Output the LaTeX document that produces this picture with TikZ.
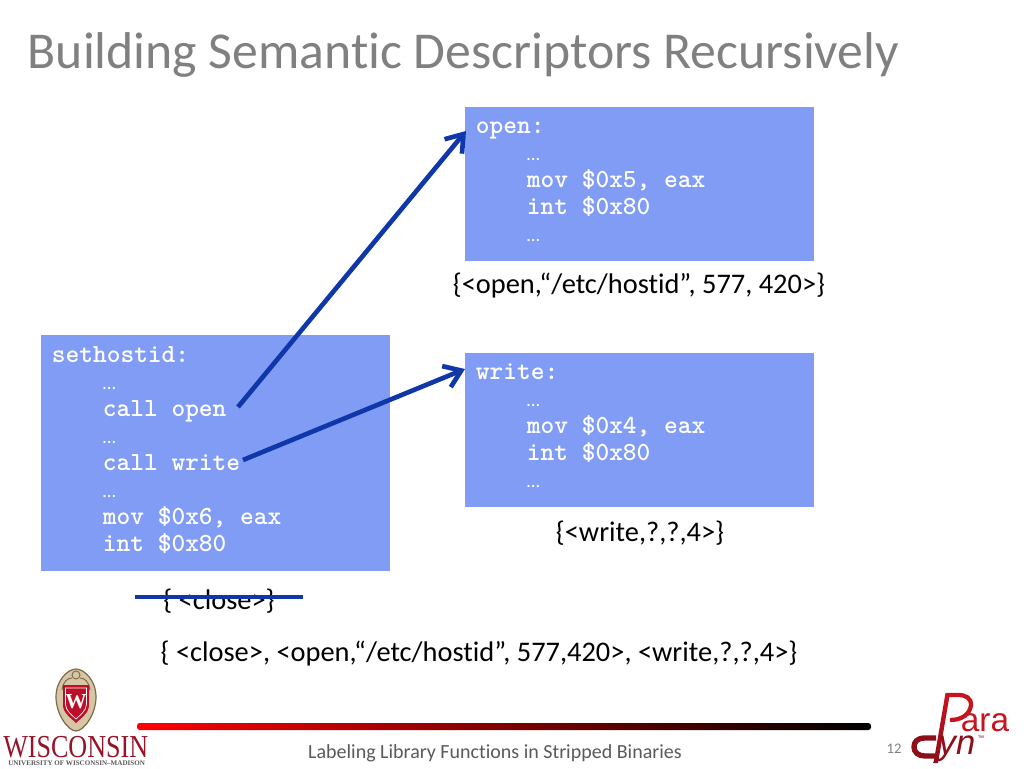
\documentclass[tikz,border=0pt]{standalone}
\usepackage{fontspec}
\setmainfont[Ligatures=NoCommon]{Carlito}
\newfontfamily\serfont{Liberation Serif}
\newfontfamily\arifont{Liberation Sans}
\usetikzlibrary{positioning,arrows.meta}
\definecolor{cBox}{RGB}{128,156,244}
\definecolor{cArrow}{RGB}{15,55,170}
\definecolor{cTitle}{RGB}{128,128,128}
\definecolor{cFoot}{RGB}{89,89,89}
\definecolor{cBadger}{RGB}{150,20,40}
\definecolor{cShield}{RGB}{190,15,40}
\definecolor{cPara}{RGB}{200,20,30}
\definecolor{cDyn}{RGB}{140,15,25}
\definecolor{cTan}{RGB}{214,198,165}
\definecolor{cRim}{RGB}{125,105,75}
\newcommand{\ind}{\hspace*{38.25pt}}
\newcommand{\gap}{\ind{\rmfamily\mdseries\fontsize{14}{14}\selectfont …}}
\newcommand{\codestrut}{\rule[-6.7pt]{0pt}{18.7pt}}

\begin{document}
\begin{tikzpicture}[x=0.75pt,y=-0.75pt]
\tikzset{codebox/.style={fill=cBox,text=white,anchor=north west,align=left,inner xsep=8pt,inner ysep=0pt,text width=245.75pt,font=\fontsize{19.6}{20.25}\selectfont\ttfamily\bfseries,
    execute at begin node={\spaceskip=0.525em\relax\codestrut},execute at end node={\codestrut}},
  call/.style={-{Straight Barb[length=12pt,width=17pt]},cArrow,line width=3.5pt},
  sem/.style={font=\fontsize{21.3}{24}\selectfont},
  logotext/.style={inner sep=0pt}}
\useasboundingbox (0,0) rectangle (1024,768);
\node[anchor=west,text=cTitle,font=\fontsize{38.8}{46}\selectfont] (title) at (23,55) {Building Semantic Descriptors Recursively};

\node[codebox,minimum height=115.5pt] (openbox) at (465,107) {open:\\\gap\\\ind mov \$0x5, eax\\\ind int \$0x80\\\gap};
\node[codebox,minimum height=115.5pt] (writebox) at (465,353) {write:\\\gap\\\ind mov \$0x4, eax\\\ind int \$0x80\\\gap};
\node[codebox,minimum height=177pt] (hostbox) at (41,335) {sethostid:\\\gap\\\ind call open\\\gap\\\ind call write\\\gap\\\ind mov \$0x6, eax\\\ind int \$0x80};

\node[sem] (opensem) at (639,286) {\{<open,“/etc/hostid”, 577, 420>\}};
\node[sem] (writesem) at (640,533) {\{<write,?,?,4>\}};
\node[sem] (closesem) at (219,601) {\{ <close>\}};
\node[sem] (allsem) at (479,654) {\{ <close>, <open,“/etc/hostid”, 577,420>, <write,?,?,4>\}};

\coordinate (openfrom) at (238,407);
\coordinate (writefrom) at (243,460);
\coordinate (opento) at (466,131);
\coordinate (writeto) at (465,369);
\coordinate (strikea) at (135,597);
\coordinate (strikeb) at (303,597);
\draw[call] (openfrom) -- (opento);
\draw[call] (writefrom) -- (writeto);
\draw[cArrow,line width=3pt] (strikea) -- (strikeb);

% footer
\shade[left color=red,right color=black,rounded corners=2pt] (137,723) rectangle (871,730);
\node[text=cFoot,font=\fontsize{15}{18}\selectfont] (foot) at (495,753) {Labeling Library Functions in Stripped Binaries};
\node[text=cTitle,font=\fontsize{11}{13}\selectfont] (page) at (894,749) {12};

% crest
\draw[fill=cTan,draw=cRim,line width=0.9pt] (76,669) .. controls (84,669) and (96,680) .. (96,697) .. controls (96,714) and (84,731) .. (76,731) .. controls (68,731) and (56,714) .. (56,697) .. controls (56,680) and (68,669) .. (76,669) -- cycle;
\draw[cRim,line width=0.7pt] (76,675) circle (4);
\draw[cRim,line width=0.7pt] (62,690) .. controls (63,681) and (68,678) .. (72,678);
\draw[cRim,line width=0.7pt] (90,690) .. controls (89,681) and (84,678) .. (80,678);
\fill[cShield] (63,685) -- (89,685) -- (89,705) .. controls (89,713) and (81,718) .. (76,723) .. controls (71,718) and (63,713) .. (63,705) -- cycle;
\draw[white,line width=0.5pt] (65.5,688) -- (86.5,688) -- (86.5,704) .. controls (86.5,711) and (80,715) .. (76,719) .. controls (72,715) and (65.5,711) .. (65.5,704) -- cycle;
\node[logotext,text=white,font=\fontsize{16}{16}\selectfont\serfont\bfseries] (crestw) at (76,702) {W};
\node[logotext,text=cBadger,anchor=west,font=\fontsize{24}{26}\selectfont\serfont] (wisc) at (3,747.5) {\scalebox{0.815}[1]{WISCONSIN}};
\node[logotext,text=cFoot,anchor=west,font=\fontsize{5.3}{6}\selectfont\serfont\bfseries] (univ) at (8,763) {UNIVERSITY OF WISCONSIN–MADISON};

% paradyn
\draw[cPara,line width=3.2pt] (950,720) .. controls (962,720) and (970,714) .. (971,705) .. controls (971,698) and (966,695) .. (958,695) -- (947,695);
\shade[top color=cPara,bottom color=cDyn] (945.5,693) -- (950,693) -- (938,763) -- (933.5,763) -- cycle;
\draw[cDyn,line width=4pt] (936,738) -- (925,738) .. controls (917,738) and (914,742) .. (914,747) .. controls (914,752) and (918,756) .. (925,756) -- (935,756);
\node[logotext,text=cPara,font=\fontsize{25}{26}\selectfont\arifont] (paraara) at (985,723) {ara};
\node[logotext,text=cDyn,font=\fontsize{26}{28}\selectfont\arifont\itshape] (dynyn) at (957,749) {yn};
\node[logotext,text=cDyn,font=\fontsize{5}{6}\selectfont\arifont] (dyntm) at (981,738) {™};
\end{tikzpicture}
\end{document}
